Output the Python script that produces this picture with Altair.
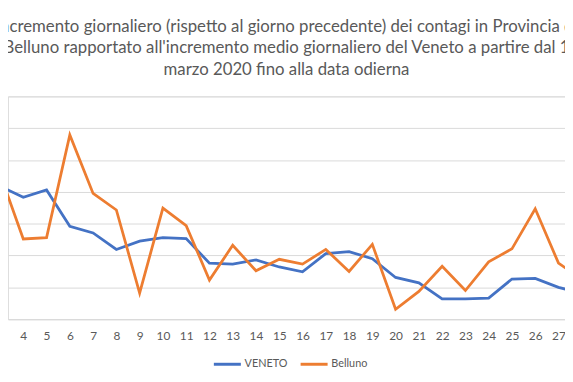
import altair as alt
import pandas as pd

title_lines = [
    "Incremento giornaliero  (rispetto al giorno precedente) dei contagi in Provincia di",
    "Belluno rapportato all'incremento medio giornaliero del Veneto a partire dal 1",
    "marzo 2020 fino alla data odierna",
]

days = list(range(3, 29))
veneto = [4.18, 3.83, 4.06, 2.92, 2.71, 2.19, 2.45, 2.56, 2.53, 1.76, 1.73, 1.86, 1.64,
          1.49, 2.06, 2.12, 1.90, 1.31, 1.14, 0.64, 0.64, 0.66, 1.26, 1.28, 1.00, 0.81]
belluno = [4.57, 2.52, 2.56, 5.79, 3.95, 3.43, 0.82, 3.49, 2.94, 1.23, 2.32, 1.52, 1.88,
           1.73, 2.19, 1.50, 2.35, 0.31, 0.87, 1.66, 0.90, 1.80, 2.21, 3.47, 1.76, 1.26]
series_names = ["VENETO", "Belluno"]
series_colors = ["#4472C4", "#ED7D31"]
tick_days = list(range(4, 28))

df = pd.concat([
    pd.DataFrame({"giorno": days, "valore": veneto, "serie": series_names[0]}),
    pd.DataFrame({"giorno": days, "valore": belluno, "serie": series_names[1]}),
])

font = "Lato"
grey = "#595959"

chart = alt.Chart(df).mark_line(strokeWidth=2.8, clip=True).encode(
    x=alt.X("giorno:Q",
            scale=alt.Scale(domain=[3.343, 27.28], nice=False, zero=False),
            axis=alt.Axis(values=tick_days, format="d", title=None, grid=False,
                          ticks=False, domain=True, domainColor="#d9d9d9",
                          labelColor=grey, labelFont=font, labelFontSize=12,
                          labelPadding=12, labelFlush=False)),
    y=alt.Y("valore:Q",
            scale=alt.Scale(domain=[0, 7], nice=False),
            axis=alt.Axis(values=list(range(0, 8)), labels=False, ticks=False,
                          domain=False, title=None, gridColor="#d9d9d9")),
    color=alt.Color("serie:N",
                    scale=alt.Scale(domain=series_names, range=series_colors),
                    legend=alt.Legend(title=None, orient="none", direction="horizontal",
                                      legendX=207, legendY=256,
                                      symbolType="stroke", symbolStrokeWidth=3,
                                      symbolSize=750, labelFont=font, labelFontSize=11,
                                      labelColor=grey, columnPadding=6, labelOffset=2)),
    order=alt.Order("giorno:Q"),
).properties(
    width=565,
    height=226,
    title=alt.TitleParams(text=title_lines, font=font, fontSize=17, fontWeight="normal",
                          color=grey, anchor="middle", baseline="alphabetic",
                          offset=5, lineHeight=21.5),
    autosize=alt.AutoSizeParams(type="none"),
    padding={"left": 0, "top": 87, "right": 0, "bottom": 53},
).configure_view(stroke=None).configure(background="white")

chart.save("out.html", embed_options={"renderer": "svg", "actions": False})
